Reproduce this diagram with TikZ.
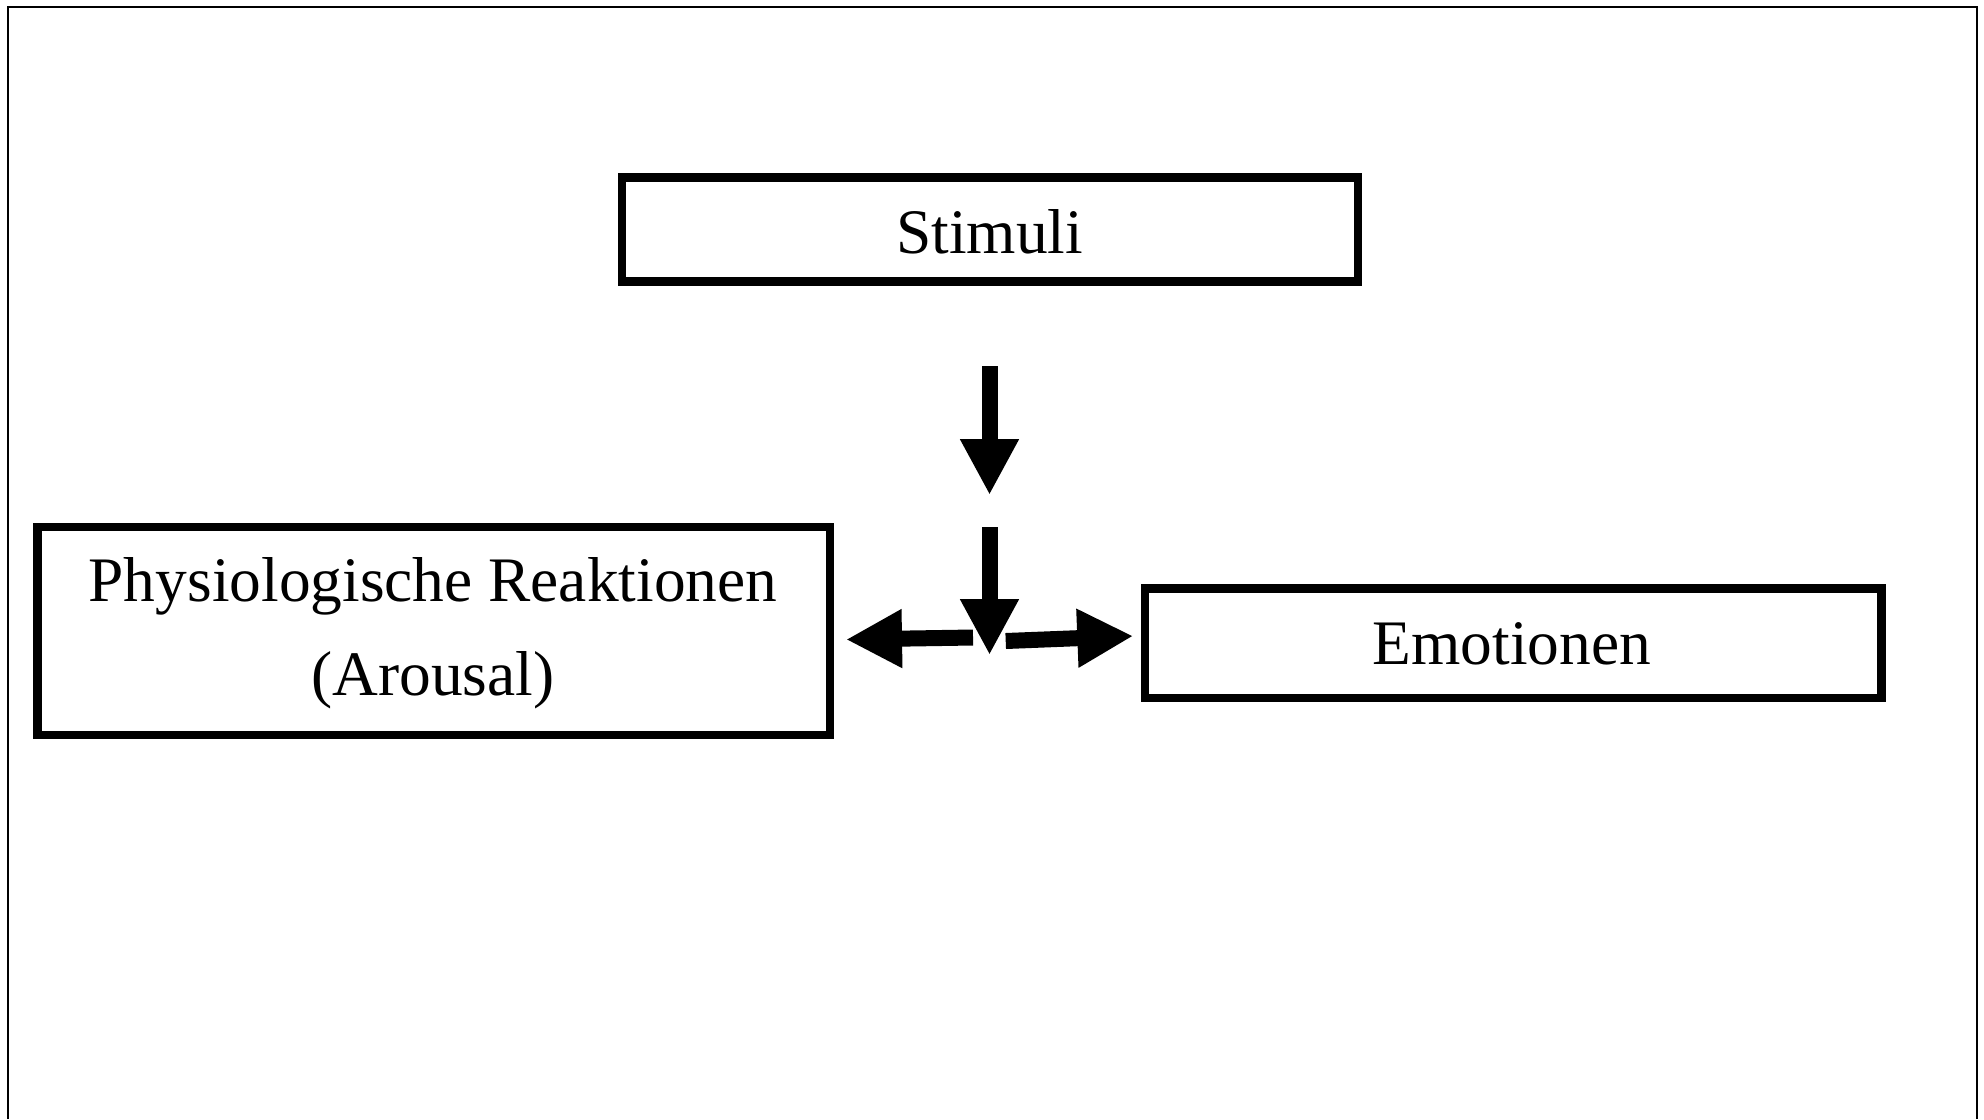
\documentclass[tikz,border=0pt]{standalone}
\usepackage{fontspec}
\setmainfont{Liberation Serif}
\usetikzlibrary{arrows.meta}
\begin{document}
\begin{tikzpicture}[x=0.5pt,y=-0.5pt,
  box/.style={draw=black, line width=4.25pt, inner sep=0pt, fill=none},
  lbl/.style={inner sep=0pt, anchor=base, font=\fontsize{31.7}{50}\selectfont},
  blockarrow/.style={line width=8pt, draw=black,
    -{Triangle[length=28pt, width=27.5pt]}}]
  \useasboundingbox (0,0) rectangle (1984,1119);
  % page frame, open at the bottom
  \draw[line width=1pt] (8.3,1119) -- (8.3,6.5) -- (1976.7,6.5) -- (1976.7,1119);

  % boxes
  \node[box, minimum width=368.15pt, minimum height=52pt] (stim) at (989.9,229.5) {};
  \node[box, minimum width=396.25pt, minimum height=104.15pt] (phys) at (433.8,630.9) {};
  \node[box, minimum width=368.15pt, minimum height=54.85pt] (emo) at (1513.2,643.2) {};

  % labels
  \node[lbl] (stimT) at (989.7,253) {Stimuli};
  \node[lbl] (physT1) at (433,601.7) {Physiologische Reaktionen};
  \node[lbl] (physT2) at (433,695) {(Arousal)};
  \node[lbl] (emoT) at (1512,664) {Emotionen};

  % arrow end points
  \coordinate (d1s) at (989.5,366);
  \coordinate (d1e) at (989.5,495);
  \coordinate (d2s) at (989.5,527);
  \coordinate (d2e) at (989.5,655);
  \coordinate (ls) at (973,637.5);
  \coordinate (le) at (846,639.5);
  \coordinate (rs) at (1005.7,641);
  \coordinate (re) at (1133.3,636);

  % arrows
  \draw[blockarrow] (d1s) -- (d1e);
  \draw[blockarrow] (d2s) -- (d2e);
  \draw[blockarrow] (ls) -- (le);
  \draw[blockarrow] (rs) -- (re);
\end{tikzpicture}
\end{document}
